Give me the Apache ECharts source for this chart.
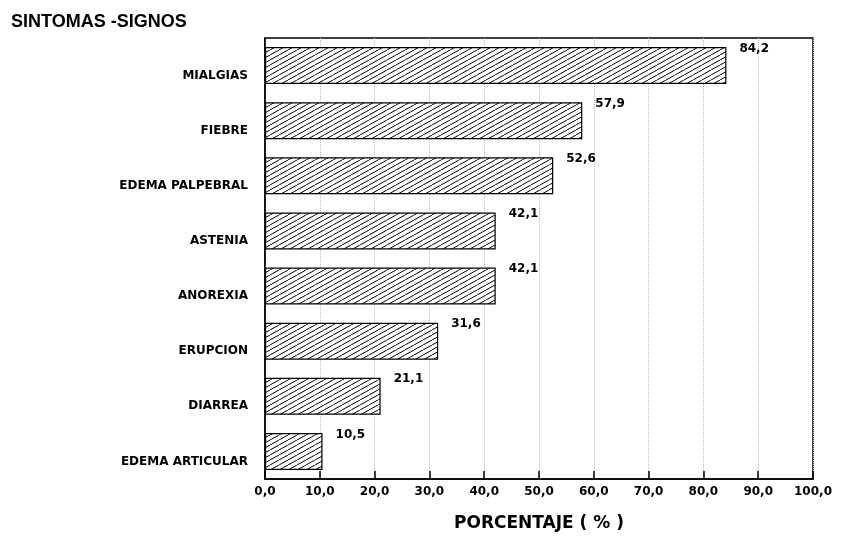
<!DOCTYPE html>
<html>
<head>
<meta charset="utf-8">
<script src="https://cdn.jsdelivr.net/npm/echarts@6/dist/echarts.min.js"></script>
<style>html,body{margin:0;padding:0;background:#fff}#c{width:841px;height:537px}</style>
</head>
<body>
<div id="c"></div>
<script>
const categories = ['MIALGIAS','FIEBRE','EDEMA PALPEBRAL','ASTENIA','ANOREXIA','ERUPCION','DIARREA','EDEMA ARTICULAR'];
const values = [84.2, 57.9, 52.6, 42.1, 42.1, 31.6, 21.1, 10.5];
const titleText = 'SINTOMAS -SIGNOS';
const axisName = 'PORCENTAJE ( % )';

function hatch() {
  const w = 9, h = 5;
  const c = document.createElement('canvas');
  c.width = w; c.height = h;
  const ctx = c.getContext('2d');
  ctx.fillStyle = '#fff';
  ctx.fillRect(0, 0, w, h);
  ctx.strokeStyle = '#000';
  ctx.lineWidth = 1;
  for (let o = -w; o <= w; o += w) {
    ctx.beginPath();
    ctx.moveTo(o, h);
    ctx.lineTo(o + w, 0);
    ctx.stroke();
  }
  return c;
}

const chart = echarts.init(document.getElementById('c'));
const fmt = v => Number(v).toFixed(1).replace('.', ',');
chart.setOption({
  animation: false,
  backgroundColor: '#fff',
  title: {
    text: titleText, left: 6, top: 8,
    textStyle: { fontFamily: 'Liberation Sans', fontWeight: 'bold', fontSize: 18, color: '#000' }
  },
  grid: { left: 265, right: 28, top: 38, bottom: 56, show: true, borderColor: '#000', borderWidth: 1.5 },
  xAxis: {
    type: 'value', min: 0, max: 100, interval: 10,
    axisLine: { show: true, lineStyle: { color: '#000', width: 1.5 } },
    axisTick: { show: true, inside: true, length: 8, lineStyle: { color: '#000', width: 1.5 } },
    splitLine: { show: true, lineStyle: { color: '#bbb', type: 'dotted', width: 1 } },
    axisLabel: { formatter: fmt, margin: 7, color: '#000', fontFamily: 'DejaVu Sans', fontWeight: 'bold', fontSize: 12 },
    name: axisName, nameLocation: 'middle', nameGap: 36,
    nameTextStyle: { color: '#000', fontFamily: 'DejaVu Sans', fontWeight: 'bold', fontSize: 17 }
  },
  yAxis: {
    type: 'category', data: categories, inverse: true,
    axisLine: { show: true, lineStyle: { color: '#000', width: 1.5 } },
    axisTick: { show: false },
    axisLabel: { margin: 17, color: '#000', fontFamily: 'DejaVu Sans', fontWeight: 'bold', fontSize: 12, verticalAlign: 'top', padding: [4, 0, 0, 0] }
  },
  series: [{
    type: 'bar', data: values, barCategoryGap: '33%',
    itemStyle: { color: { image: hatch(), repeat: 'repeat' }, borderColor: '#000', borderWidth: 1.2 },
    label: {
      show: true, position: 'right', offset: [8, -17], formatter: p => fmt(p.value),
      color: '#000', fontFamily: 'DejaVu Sans', fontWeight: 'bold', fontSize: 12
    }
  }]
});
</script>
</body>
</html>
